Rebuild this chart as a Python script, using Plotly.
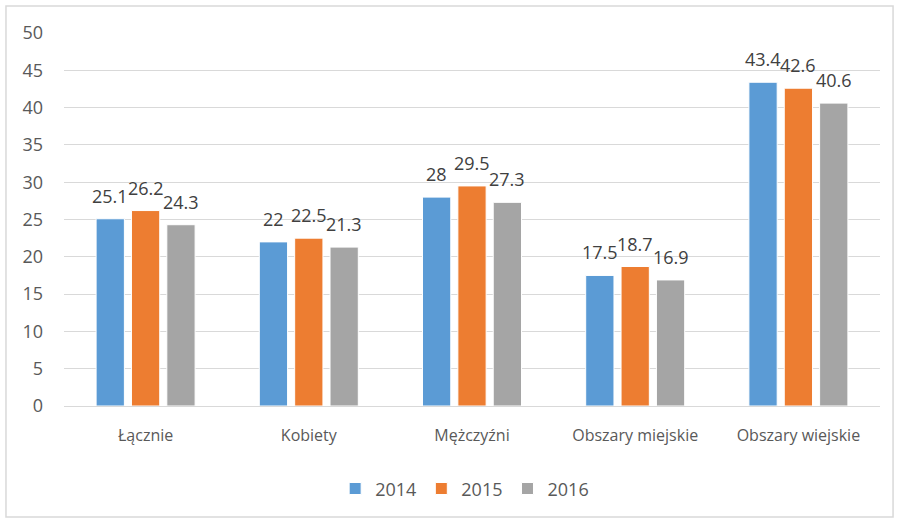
import plotly.graph_objects as go

categories = ["Łącznie", "Kobiety", "Mężczyźni", "Obszary miejskie", "Obszary wiejskie"]
years = ["2014", "2015", "2016"]
v2014 = [25.1, 22, 28, 17.5, 43.4]
v2015 = [26.2, 22.5, 29.5, 18.7, 42.6]
v2016 = [24.3, 21.3, 27.3, 16.9, 40.6]
colors = ["#5B9BD5", "#ED7D31", "#A5A5A5"]

FONT = "Open Sans, Liberation Sans, sans-serif"
BARGAP = 0.35
PLOT_W = 899 - 64 - 19
slot_px = PLOT_W / len(categories) * (1 - BARGAP) / len(years)

fig = go.Figure()
annotations = []
for i, (name, vals, c) in enumerate(zip(years, [v2014, v2015, v2016], colors)):
    fig.add_trace(go.Bar(
        x=categories, y=vals, name=name,
        marker=dict(color=c, line=dict(color="white", width=1)),
    ))
    for cat, v in zip(categories, vals):
        annotations.append(dict(
            x=cat, y=v, xref="x", yref="y", text=f"{v:g}", showarrow=False,
            xshift=(i - 1) * slot_px, yshift=9, yanchor="bottom",
            font=dict(size=18, color="#404040", family=FONT),
        ))

fig.update_layout(
    width=899, height=522,
    margin=dict(l=64, r=19, t=33, b=116, autoexpand=False),
    paper_bgcolor="white", plot_bgcolor="white",
    barmode="group", bargap=BARGAP, bargroupgap=0.2,
    font=dict(family=FONT, color="#595959"),
    xaxis=dict(showline=False, ticks="", tickfont=dict(size=16, color="#595959"),
               ticklabelstandoff=18),
    yaxis=dict(range=[0, 50], dtick=5, gridcolor="#D9D9D9", gridwidth=1,
               zeroline=True, zerolinecolor="#D9D9D9", zerolinewidth=1,
               tickfont=dict(size=18, color="#595959"), ticklabelstandoff=20),
    legend=dict(orientation="h", x=0.491, xanchor="center", y=-0.222, yanchor="middle",
                font=dict(size=18, color="#595959"), itemwidth=30, traceorder="normal"),
    annotations=annotations,
    shapes=[dict(type="rect", xref="paper", yref="paper",
                 x0=-0.0711, x1=1.016, y0=-0.2976, y1=1.0724,
                 line=dict(color="#D9D9D9", width=1.5), fillcolor="rgba(0,0,0,0)", layer="below")],
)

fig.write_html("out.html", config={"displayModeBar": False},
               post_script="document.body.style.margin='0';")
